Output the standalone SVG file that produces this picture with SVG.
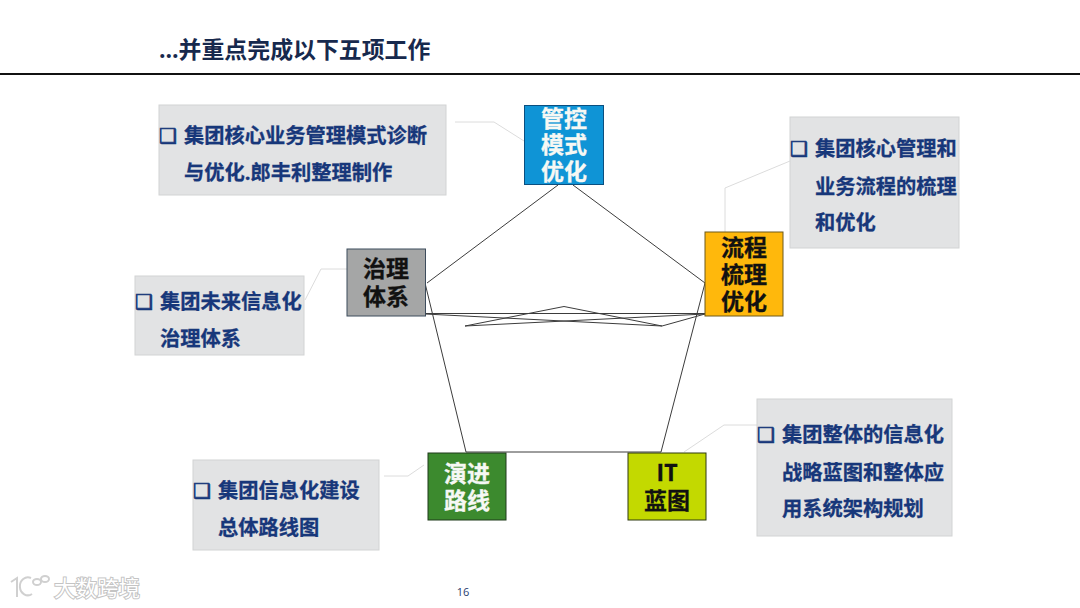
<svg xmlns="http://www.w3.org/2000/svg" width="1080" height="608" viewBox="0 0 1080 608">
<style>
text{font-family:"Open Sans","Noto Sans CJK SC",sans-serif;font-weight:700}
.box{fill:#e2e3e4;stroke:#d2d3d4;stroke-width:1}
.t{font-size:20.250px;fill:#17377a;stroke:#17377a;stroke-width:.3}
.b{font-family:"DejaVu Sans",sans-serif;font-size:20px;fill:#17377a;stroke:#17377a;stroke-width:.7}
.n{font-size:23px;fill:#111;text-anchor:middle;stroke:#111;stroke-width:.3}
.w{fill:#f6f8f4;stroke:#f6f8f4}
.c{fill:none;stroke:#3c3c3c;stroke-width:1}
.l{fill:none;stroke:#dcdcdc;stroke-width:1}
.node{stroke-width:1}
</style>
<rect width="1080" height="608" fill="#fff"/>
<text id="title" x="159" y="58" font-size="22.900" fill="#17294d">…并重点完成以下五项工作</text>
<rect x="0" y="73" width="1080" height="2" fill="#111"/>
<g id="connectors">
<path class="c" d="M427 283L558 185M573 185L705 283M425 283L466 452M705 283L661 452M466 452H661"/>
<path class="c" d="M425 313.500H705M425 314L662 326M705 314L465 326L564 306.500L662 326Z"/>
<path class="l" d="M455 122H494L524 141M725 232V188L790 161M305 300L321 269H347M384 476H408L424 465M684 452L724 425H757"/>
</g>
<g id="n1"><rect class="node" x="524.500" y="105.500" width="79" height="79" fill="#0f94d6" stroke="#0a4f80"/>
<text class="n w" x="564"><tspan x="564" y="127">管控</tspan><tspan x="564" y="153">模式</tspan><tspan x="564" y="180">优化</tspan></text></g>
<g id="n2"><rect class="node" x="705" y="232" width="78" height="84" fill="#ffb80c" stroke="#6e5a1c"/>
<text class="n"><tspan x="744" y="256">流程</tspan><tspan x="744" y="283">梳理</tspan><tspan x="744" y="310">优化</tspan></text></g>
<g id="n3"><rect class="node" x="347" y="249" width="78.500" height="67" fill="#a5a6a6" stroke="#3d4c5c"/>
<text class="n"><tspan x="386" y="277">治理</tspan><tspan x="386" y="305">体系</tspan></text></g>
<g id="n4"><rect class="node" x="428" y="453" width="78" height="67" fill="#3c8a2e" stroke="#1f3a1a"/>
<text class="n w"><tspan x="467" y="482">演进</tspan><tspan x="467" y="509">路线</tspan></text></g>
<g id="n5"><rect class="node" x="628" y="453" width="78" height="67" fill="#c3d900" stroke="#2f3a10"/>
<text class="n"><tspan x="667" y="481">IT</tspan><tspan x="667" y="509">蓝图</tspan></text></g>
<g id="d1"><rect class="box" x="159" y="105" width="287" height="90"/>
<text class="b" x="159" y="143">❑</text><text class="t" x="184" y="143">集团核心业务管理模式诊断</text><text class="t" x="184" y="180">与优化.郎丰利整理制作</text></g>
<g id="d2"><rect class="box" x="790" y="117" width="169" height="131"/>
<text class="b" x="790" y="156">❑</text><text class="t" x="815" y="156">集团核心管理和</text><text class="t" x="815" y="194">业务流程的梳理</text><text class="t" x="815" y="230">和优化</text></g>
<g id="d3"><rect class="box" x="135" y="276" width="169" height="79"/>
<text class="b" x="135" y="309">❑</text><text class="t" x="160" y="309">集团未来信息化</text><text class="t" x="160" y="346">治理体系</text></g>
<g id="d4"><rect class="box" x="193" y="460" width="186" height="90"/>
<text class="b" x="193" y="498">❑</text><text class="t" x="218" y="498">集团信息化建设</text><text class="t" x="218" y="535">总体路线图</text></g>
<g id="d5"><rect class="box" x="757" y="399" width="195" height="137"/>
<text class="b" x="757" y="442">❑</text><text class="t" x="782" y="442">集团整体的信息化</text><text class="t" x="782" y="480">战略蓝图和整体应</text><text class="t" x="782" y="516">用系统架构规划</text></g>
<text id="page" x="463" y="596" font-size="11" text-anchor="middle" style="font-weight:400;fill:#1f3b70">16</text>
<g id="watermark">
<path d="M11 582L17 578V597M31 578a8 9 0 1 0 1 16M33 582a4 3 0 1 0 8 0a4 3 0 1 0-8 0M41 579a4 3 0 1 0 8 0a4 3 0 1 0-8 0" fill="none" stroke="#d0d0d0" stroke-width="2"/>
<text x="54" y="596" font-size="21.500" style="font-weight:400;fill:#fff;stroke:#c4c4c4;stroke-width:2;paint-order:stroke">大数跨境</text></g>
</svg>
